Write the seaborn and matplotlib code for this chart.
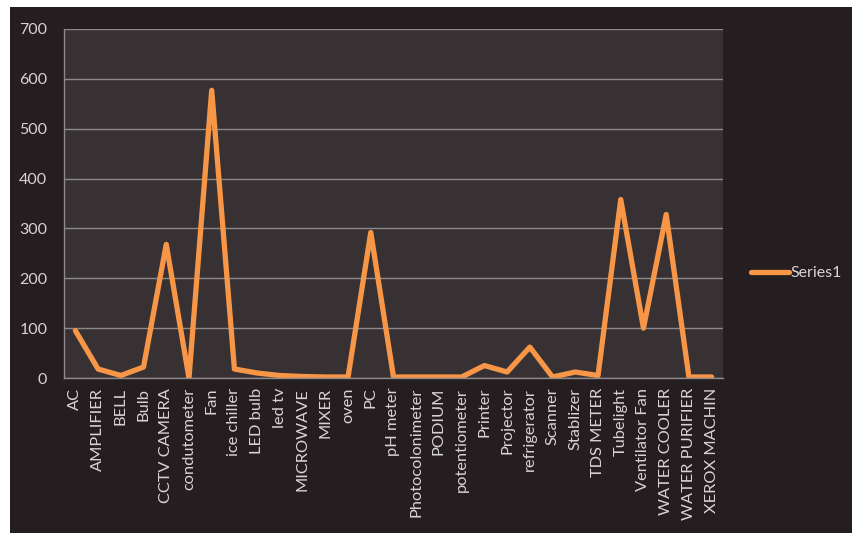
import matplotlib
matplotlib.use("Agg")
import matplotlib.pyplot as plt
import seaborn as sns
import pandas as pd
from matplotlib.patches import Rectangle

# datos
equipos = ["AC", "AMPLIFIER", "BELL", "Bulb", "CCTV CAMERA", "condutometer",
           "Fan", "ice chiller", "LED bulb", "led tv", "MICROWAVE", "MIXER",
           "oven", "PC", "pH meter", "Photocolonimeter", "PODIUM",
           "potentiometer", "Printer", "Projector", "refrigerator", "Scanner",
           "Stablizer", "TDS METER", "Tubelight", "Ventilator Fan",
           "WATER COOLER", "WATER PURIFIER", "XEROX MACHIN"]
cantidad = [95, 18, 5, 22, 268, 0,
            577, 18, 10, 5, 3, 2,
            2, 292, 2, 2, 2,
            2, 25, 12, 62, 2,
            12, 5, 358, 100,
            328, 2, 2]

df = pd.DataFrame({"equipo": equipos, "cantidad": cantidad})

sns.set_theme(style="dark")
plt.rcParams["font.family"] = ["Lato", "DejaVu Sans"]

fondo = "#251e20"
area = "#373133"
texto = "#d8d4d4"
naranja = "#f79646"

fig = plt.figure(figsize=(8.53, 5.33), dpi=100)
fig.patch.set_facecolor("white")
fig.add_artist(Rectangle((10 / 853, 0), 1, 1 - 7 / 533, transform=fig.transFigure,
                         facecolor=fondo, edgecolor="none", zorder=-10))

ax = fig.add_axes([64 / 853, 1 - 378 / 533, (723 - 64) / 853, (378 - 29) / 533])
ax.set_facecolor(area)

sns.lineplot(data=df, x="equipo", y="cantidad", sort=False, color=naranja,
             linewidth=3.8, ax=ax, label="Series1")

ax.set_xlim(-0.5, len(equipos) - 0.5)
ax.set_ylim(0, 700)
ax.set_yticks(range(0, 701, 100))
ax.yaxis.grid(True, color="#8d8889", linewidth=1)
ax.xaxis.grid(False)
ax.set_xlabel("")
ax.set_ylabel("")

ax.set_xticks(range(len(equipos)))
ax.set_xticklabels(equipos, rotation=90, fontsize=11.8, color=texto)
ax.set_xticks([i - 0.5 for i in range(len(equipos) + 1)], minor=True)
ax.tick_params(axis="x", which="major", length=0, pad=7)
ax.tick_params(axis="x", which="minor", length=4, color="#8d8889", width=1, direction="out")
ax.tick_params(axis="y", length=0, labelsize=11.5, labelcolor=texto, pad=12)

for lado in ["top", "right"]:
    ax.spines[lado].set_visible(False)
for lado in ["left", "bottom"]:
    ax.spines[lado].set_visible(True)
    ax.spines[lado].set_color("#8d8889")
    ax.spines[lado].set_linewidth(1)

leg = ax.legend(loc="center left", bbox_to_anchor=(1.02, 0.30), frameon=False,
                fontsize=11.5, handlelength=2.4, handletextpad=0.1)
for t in leg.get_texts():
    t.set_color(texto)

fig.savefig("out.png", dpi=100, facecolor=fig.get_facecolor())
